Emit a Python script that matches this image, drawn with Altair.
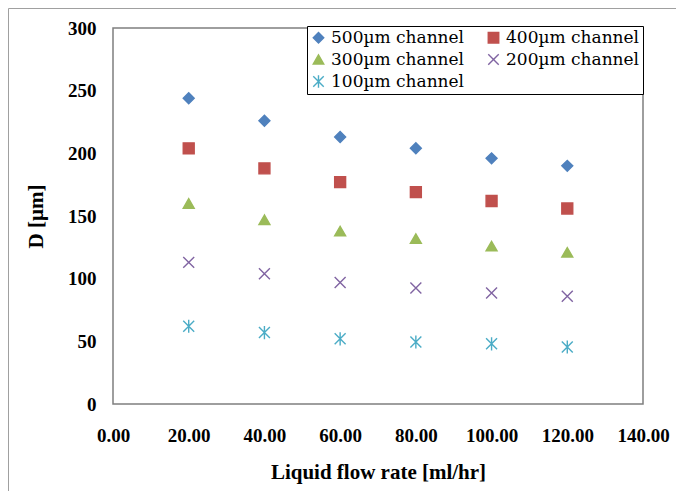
import altair as alt
import pandas as pd

flow = [20, 40, 60, 80, 100, 120]
series_names = ["500µm channel", "400µm channel", "300µm channel", "200µm channel", "100µm channel"]
d500 = [244, 226, 213, 204, 196, 190]
d400 = [204, 188, 177, 169, 162, 156]
d300 = [160, 147, 138, 132, 126, 121]
d200 = [113, 104, 97, 92.5, 88.5, 86]
d100 = [62, 57, 52, 49.5, 48, 45.5]
colors = ["#4F81BD", "#C0504D", "#9BBB59", "#8064A2", "#4BACC6"]
shapes = ["diamond", "square", "triangle-up",
          "M-1,-1L1,1M-1,1L1,-1",
          "M-1,-1L1,1M-1,1L1,-1M0,-1.2L0,1.2"]
x_ticks = [0, 20, 40, 60, 80, 100, 120, 140]
y_ticks = [0, 50, 100, 150, 200, 250, 300]

rows = []
for name, vals in zip(series_names, [d500, d400, d300, d200, d100]):
    for f, v in zip(flow, vals):
        rows.append({"flow": f, "D": v, "series": name})
df = pd.DataFrame(rows)

FONT = "Liberation Serif"
LFONT = "DejaVu Serif"
W, H = 530, 376

cscale = alt.Scale(domain=series_names, range=colors)
sscale = alt.Scale(domain=series_names, range=shapes)

leg = alt.Legend(title=None, labelFont=LFONT, labelFontWeight="normal", labelFontSize=17)

points = alt.Chart(df).mark_point(filled=True, size=120, strokeWidth=1.4, opacity=1).encode(
    x=alt.X("flow:Q", scale=alt.Scale(domain=[0, 140], nice=False),
            axis=alt.Axis(values=x_ticks, format=".2f", title="Liquid flow rate [ml/hr]",
                          labelOverlap=False, labelFlush=False)),
    y=alt.Y("D:Q", scale=alt.Scale(domain=[0, 300], nice=False),
            axis=alt.Axis(values=y_ticks, format="d", title="D [µm]",
                          labelOverlap=False, labelFlush=False)),
    color=alt.Color("series:N", scale=cscale, sort=series_names, legend=leg),
    stroke=alt.Stroke("series:N", scale=cscale, sort=series_names, legend=leg),
    shape=alt.Shape("series:N", scale=sscale, sort=series_names, legend=leg),
)

frame = alt.Chart(pd.DataFrame({"a": [0]})).mark_rect(
    fill=None, stroke="#A0A0A0", strokeWidth=1
).encode(
    x=alt.value(-104.5), x2=alt.value(563.5), y=alt.value(-19.5), y2=alt.value(464.5)
)

chart = alt.layer(frame, points).properties(
    width=W, height=H,
    autosize=alt.AutoSizeParams(type="none"),
    padding={"left": 105, "top": 20, "right": 33, "bottom": 87},
    background="white",
).configure(
    font=FONT
).configure_view(
    stroke="#7F7F7F", strokeWidth=1.5
).configure_axis(
    domain=False, ticks=False, grid=False,
    labelFont=FONT, labelFontSize=19, labelFontWeight="bold", labelColor="black",
    titleFont=FONT, titleFontSize=21, titleFontWeight="bold", titleColor="black",
).configure_axisX(
    labelPadding=22, titlePadding=16
).configure_axisY(
    labelPadding=17, titlePadding=21
).configure_legend(
    orient="none", legendX=194, legendY=-2, columns=2, direction="horizontal",
    strokeColor="black", fillColor="white", padding=3,
    labelColor="black", labelOffset=4,
    symbolSize=110, symbolStrokeWidth=1.4, columnPadding=20, rowPadding=4,
    labelLimit=300,
)

chart.save("out.html", embed_options={"renderer": "svg", "actions": False})
